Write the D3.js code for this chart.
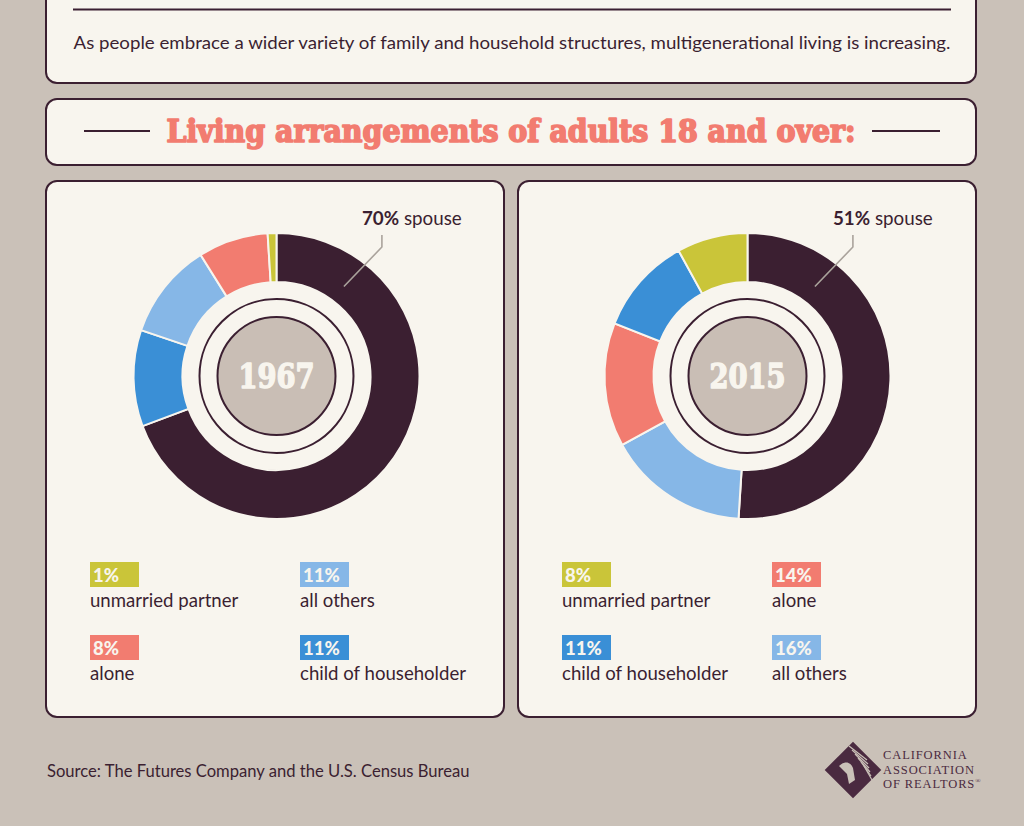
<!DOCTYPE html>
<html><head><meta charset="utf-8">
<script src="https://cdn.jsdelivr.net/npm/d3@7"></script>
<style>html,body{margin:0;padding:0;background:#cac1b8;}svg{display:block;}</style>
</head><body>
<script>
// ---- data ----
const years = ["1967", "2015"];
const categories = ["spouse", "child of householder", "all others", "alone", "unmarried partner"];
const values1967 = [70, 11, 11, 8, 1];
const values2015 = [51, 11, 16, 14, 8];
// clockwise order of slices from 12 o'clock
const sliceOrder1967 = ["spouse", "child of householder", "all others", "alone", "unmarried partner"];
const sliceOrder2015 = ["spouse", "all others", "alone", "child of householder", "unmarried partner"];
// legend layout order (row by row, two columns)
const legendOrder1967 = ["unmarried partner", "all others", "alone", "child of householder"];
const legendOrder2015 = ["unmarried partner", "alone", "child of householder", "all others"];
const colors = ["#3b1f31", "#3a8fd6", "#86b7e7", "#f27c70", "#cac539"];

const subtitle = "As people embrace a wider variety of family and household structures, multigenerational living is increasing.";
const title = "Living arrangements of adults 18 and over:";
const source = "Source: The Futures Company and the U.S. Census Bureau";

// ---- drawing ----
const W = 1024, H = 826;
const BG = "#cac1b8", PANEL = "#f8f5ee", DARK = "#3b1f31";
const sans = "Lato, 'Open Sans', sans-serif";
const slab = "'DejaVu Serif Condensed', 'DejaVu Serif', serif";

const svg = d3.select("body").append("svg").attr("width", W).attr("height", H);
svg.append("rect").attr("width", W).attr("height", H).attr("fill", BG);

const color = d3.scaleOrdinal().domain(categories).range(colors);
const valueOf = {
  "1967": new Map(categories.map((c, i) => [c, values1967[i]])),
  "2015": new Map(categories.map((c, i) => [c, values2015[i]]))
};
const orderOf = {"1967": sliceOrder1967, "2015": sliceOrder2015};
const legendOf = {"1967": legendOrder1967, "2015": legendOrder2015};

function panel(x, y, w, h) {
  svg.append("rect").attr("x", x).attr("y", y).attr("width", w).attr("height", h)
    .attr("rx", 11).attr("fill", PANEL).attr("stroke", DARK).attr("stroke-width", 2);
}

// top panel
panel(46, -20, 930, 103);
svg.append("line").attr("x1", 73).attr("x2", 951).attr("y1", 9.5).attr("y2", 9.5)
  .attr("stroke", DARK).attr("stroke-width", 2);
svg.append("text").attr("x", 512).attr("y", 49).attr("text-anchor", "middle")
  .attr("font-family", sans).attr("font-size", 17).attr("fill", DARK)
  .attr("textLength", 877).attr("lengthAdjust", "spacingAndGlyphs").text(subtitle);

// title panel
panel(46, 99, 930, 66);
svg.append("text").attr("x", 511).attr("y", 142).attr("text-anchor", "middle")
  .attr("font-family", slab).attr("font-weight", "bold").attr("font-size", 31)
  .attr("fill", "#f27c70").attr("stroke", "#f27c70").attr("stroke-width", 1.6)
  .attr("stroke-linejoin", "round")
  .attr("textLength", 689).attr("lengthAdjust", "spacingAndGlyphs").text(title);
[[84, 150], [872, 940]].forEach(([a, b]) =>
  svg.append("line").attr("x1", a).attr("x2", b).attr("y1", 131).attr("y2", 131)
    .attr("stroke", DARK).attr("stroke-width", 2));

// chart panels
const panels = [{year: "1967", x: 46, cx: 276.5}, {year: "2015", x: 518, cx: 747.5}];
const cy = 376;
const rOuter = 143, rInner = 94, rRing = 77, rCore = 59;

const pie = d3.pie().sort(null).value(d => d.value);
const arc = d3.arc().innerRadius(rInner).outerRadius(rOuter);

panels.forEach(p => {
  panel(p.x, 181, 458, 536);
  const g = svg.append("g").attr("transform", `translate(${p.cx},${cy})`);
  const data = orderOf[p.year].map(c => ({cat: c, value: valueOf[p.year].get(c)}));
  g.selectAll("path.slice").data(pie(data)).join("path").attr("class", "slice")
    .attr("d", arc).attr("fill", d => color(d.data.cat))
    .attr("stroke", PANEL).attr("stroke-width", 2);
  g.append("circle").attr("r", rRing).attr("fill", "none").attr("stroke", DARK).attr("stroke-width", 2);
  g.append("circle").attr("r", rCore).attr("fill", "#c9beb5").attr("stroke", DARK).attr("stroke-width", 2);
  g.append("text").attr("y", 12).attr("text-anchor", "middle")
    .attr("font-family", slab).attr("font-weight", "bold").attr("font-size", 33)
    .attr("fill", PANEL).attr("stroke", PANEL).attr("stroke-width", 1.4).attr("stroke-linejoin", "round")
    .attr("textLength", 76).attr("lengthAdjust", "spacingAndGlyphs").text(p.year);

  // spouse callout
  const ang = 37 * Math.PI / 180, rr = 112;
  const ex = rr * Math.sin(ang), ey = -rr * Math.cos(ang);
  const lx = ex + 38;
  g.append("polyline").attr("points", `${lx},-141 ${lx},-129 ${ex},${ey}`)
    .attr("fill", "none").attr("stroke", "#aaa39c").attr("stroke-width", 1.6);
  const t = g.append("text").attr("x", lx - 20).attr("y", -151)
    .attr("font-family", sans).attr("font-size", 18.8).attr("fill", DARK);
  t.append("tspan").attr("font-weight", "bold").text(valueOf[p.year].get("spouse") + "%");
  t.append("tspan").text(" spouse");

  // legend
  const colX = [p.x + 44, p.x + 254];
  const rowY = [562, 635];
  legendOf[p.year].forEach((c, i) => {
    const x = colX[i % 2], y = rowY[Math.floor(i / 2)];
    svg.append("rect").attr("x", x).attr("y", y).attr("width", 49).attr("height", 25).attr("fill", color(c));
    svg.append("text").attr("x", x + 3).attr("y", y + 20)
      .attr("font-family", sans).attr("font-weight", "900").attr("font-size", 18.5)
      .attr("fill", PANEL).text(valueOf[p.year].get(c) + "%");
    svg.append("text").attr("x", x).attr("y", y + 45)
      .attr("font-family", sans).attr("font-size", 18.6).attr("fill", DARK).text(c);
  });
});

// source
svg.append("text").attr("x", 47).attr("y", 777).attr("font-family", sans)
  .attr("font-size", 16.6).attr("fill", DARK).text(source);

// logo
const logo = svg.append("g").attr("transform", "translate(853,770)");
logo.append("rect").attr("x", -20).attr("y", -20).attr("width", 40).attr("height", 40)
  .attr("transform", "rotate(45)").attr("fill", "#4a2a40");
for (let i = 0; i < 6; i++) {
  logo.append("line").attr("x1", -4 + i * 3).attr("y1", -24 + i * 4).attr("x2", 14 + i * 1).attr("y2", -10 + i * 4)
    .attr("stroke", BG).attr("stroke-width", 1.2);
}
logo.append("path").attr("d", "M-14,-4 C-8,-10 -2,-8 0,-2 L2,10 L-4,14 L-6,4 Z").attr("fill", BG);
["CALIFORNIA", "ASSOCIATION", "OF REALTORS"].forEach((s, i) => {
  const tx = svg.append("text").attr("x", 883).attr("y", 759 + i * 14.5)
    .attr("font-family", "'Liberation Serif', serif").attr("font-size", 12.5)
    .attr("letter-spacing", 0.9).attr("fill", "#4a2a40").text(s);
  if (i === 2) tx.append("tspan").attr("font-size", 7).attr("dy", -5).text("®");
});
</script>
</body></html>
